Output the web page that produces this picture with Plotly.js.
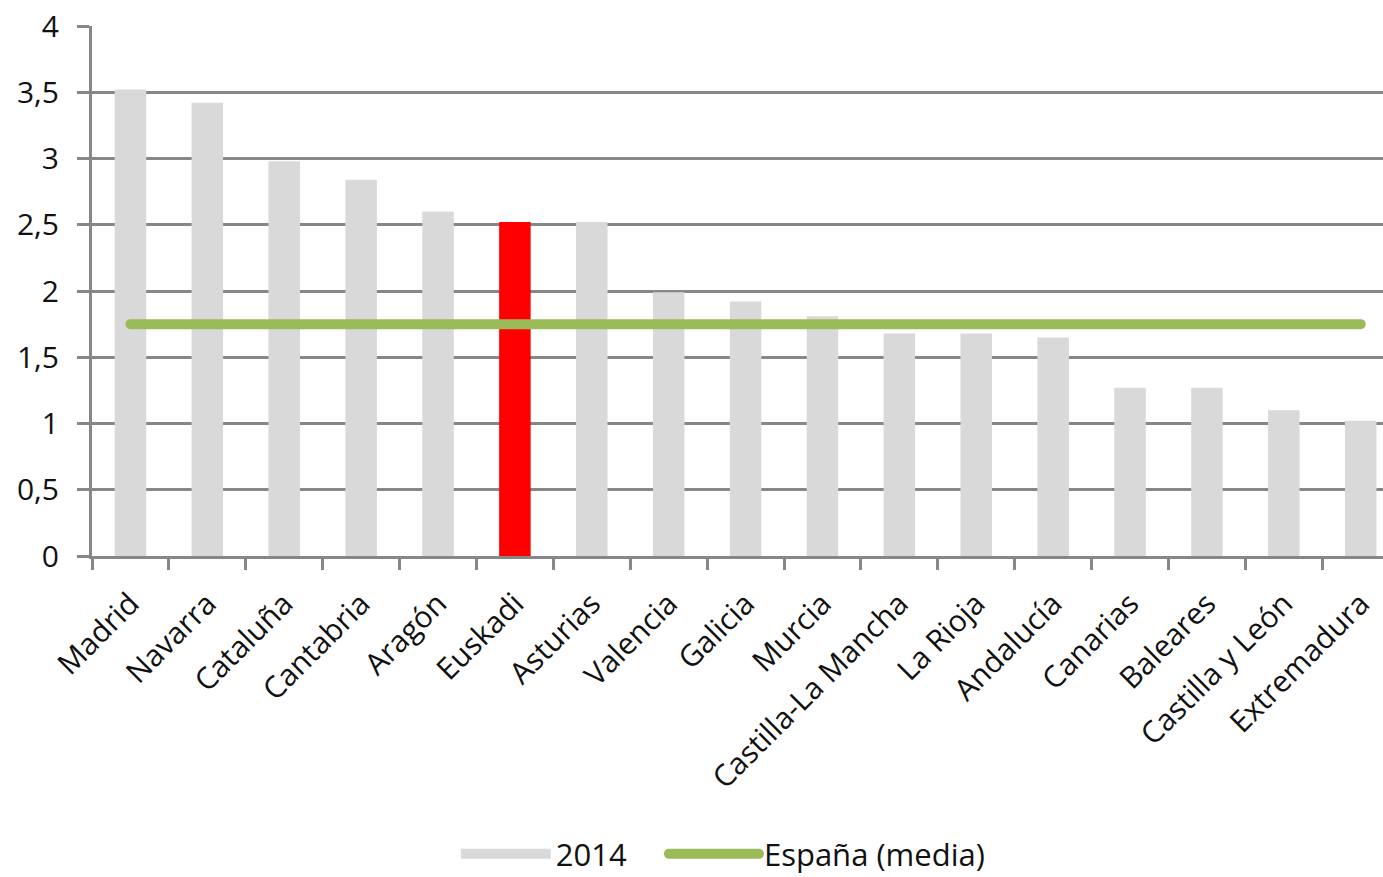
<!DOCTYPE html>
<html>
<head>
<meta charset="utf-8">
<script src="https://cdn.plot.ly/plotly-3.0.1.min.js"></script>
<style>html,body{margin:0;padding:0;background:#fff;}#chart{width:1383px;height:877px;}</style>
</head>
<body>
<div id="chart"></div>
<script>
const regiones = ["Madrid","Navarra","Cataluña","Cantabria","Aragón","Euskadi","Asturias","Valencia","Galicia","Murcia","Castilla-La Mancha","La Rioja","Andalucía","Canarias","Baleares","Castilla y León","Extremadura"];
const valores2014 = [3.52,3.42,2.98,2.84,2.60,2.52,2.52,1.99,1.92,1.81,1.68,1.68,1.65,1.27,1.27,1.10,1.02];
const coloresBarras = ["#d9d9d9","#d9d9d9","#d9d9d9","#d9d9d9","#d9d9d9","#ff0000","#d9d9d9","#d9d9d9","#d9d9d9","#d9d9d9","#d9d9d9","#d9d9d9","#d9d9d9","#d9d9d9","#d9d9d9","#d9d9d9","#d9d9d9"];
const espanaMedia = [1.75,1.75,1.75,1.75,1.75,1.75,1.75,1.75,1.75,1.75,1.75,1.75,1.75,1.75,1.75,1.75,1.75];
const ticksY = [0,0.5,1,1.5,2,2.5,3,3.5,4];

const font = "Open Sans, sans-serif";
const pad = "\u00a0\u00a0\u00a0\u00a0";
const traces = [
  {type:"bar", name:"2014", x:regiones, y:valores2014, marker:{color:coloresBarras}, hoverinfo:"skip", showlegend:false, legendgroup:"a"},
  {type:"scatter", mode:"lines", name:"2014" + pad, x:[regiones[0]], y:[null], line:{color:"#d9d9d9", width:18}, hoverinfo:"skip", legendgroup:"a", showlegend:true},
  {type:"scatter", mode:"lines", name:"España (media)", x:regiones, y:espanaMedia, line:{color:"#9bbb59", width:10}, hoverinfo:"skip"}
];
const layout = {
  width:1383, height:877,
  margin:{l:92, r:0, t:26, b:321},
  paper_bgcolor:"#fff", plot_bgcolor:"#fff",
  separators:",.",
  bargap:0.59,
  showlegend:true,
  font:{family:font, size:30, color:"#111"},
  xaxis:{
    type:"category", range:[-0.5,16.29], automargin:false,
    showgrid:false, showline:true, linecolor:"#878787", linewidth:3,
    ticks:"outside", tickson:"boundaries", ticklen:11, tickwidth:3, tickcolor:"#878787",
    tickangle:-45, ticklabelstandoff:15, tickfont:{family:font, size:30, color:"#111"}
  },
  yaxis:{
    range:[0,4], tickvals:ticksY, ticktext:ticksY.map(v=>String(v).replace(".",",")),
    automargin:false,
    showgrid:true, gridcolor:"#878787", gridwidth:3, zeroline:false,
    showline:true, linecolor:"#878787", linewidth:3,
    ticks:"outside", ticklen:12, tickwidth:3, tickcolor:"#878787",
    ticklabelstandoff:12, tickfont:{family:font, size:30, color:"#111"}
  },
  legend:{orientation:"h", xref:"container", x:0.523, xanchor:"center", yref:"container", y:0.026, yanchor:"middle",
    font:{family:font, size:31, color:"#111"}, itemwidth:90, traceorder:"normal"}
};
Plotly.newPlot("chart", traces, layout, {staticPlot:true, displayModeBar:false}).then(function(gd){
  gd.querySelectorAll(".scatterlayer .js-line, .legendlines path").forEach(function(p){ p.style.strokeLinecap = "round"; });
  gd.querySelectorAll(".legend .traces").forEach(function(t){
    if (t.textContent.indexOf("2014") === 0) { t.querySelectorAll(".legendlines path").forEach(function(p){ p.style.strokeLinecap = "butt"; }); }
  });
});
</script>
</body>
</html>
